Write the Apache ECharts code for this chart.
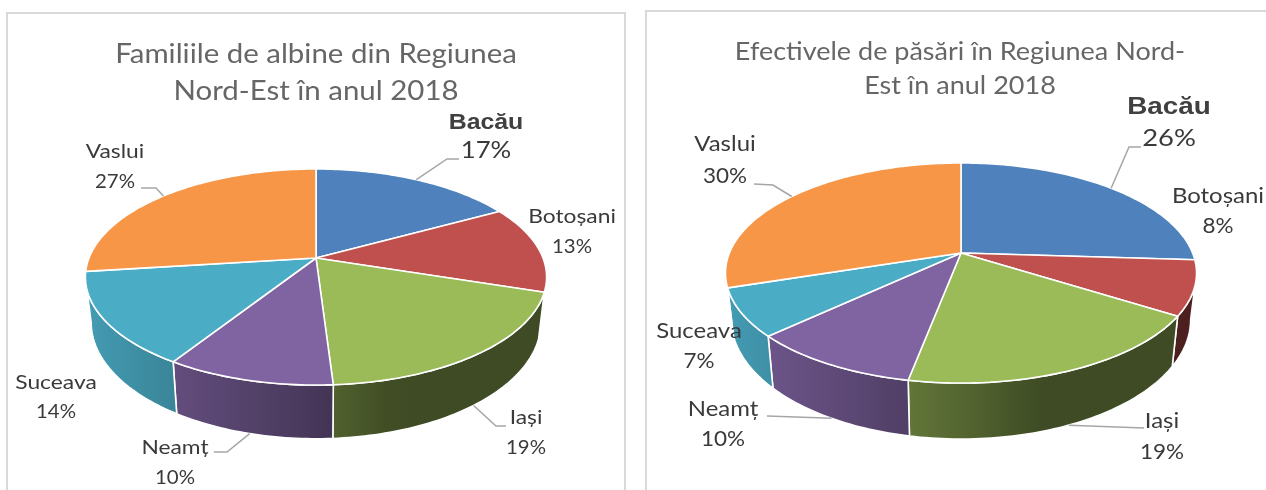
<!DOCTYPE html>
<html>
<head>
<meta charset="utf-8">
<style>html,body{margin:0;padding:0;background:#fff}#c{width:1266px;height:490px}</style>
<script src="https://cdn.jsdelivr.net/npm/echarts@6/dist/echarts.min.js"></script>
</head>
<body>
<div id="c"></div>
<script>
const counties = ['Bacău', 'Botoșani', 'Iași', 'Neamț', 'Suceava', 'Vaslui'];
const beeShares = [17, 13, 19, 10, 14, 27];
const birdShares = [26, 8, 19, 10, 7, 30];
const sliceColors = ['#4f81bd', '#c0504d', '#9bbb59', '#8064a2', '#4bacc6', '#f79646'];
const beeTitle = 'Familiile de albine din Regiunea\nNord-Est în anul 2018';
const birdTitle = 'Efectivele de păsări în Regiunea Nord-\nEst în anul 2018';

// Layout of the two tilted pies and their labels (not data).
const beePie = {
  cx: 316, cy: 258, A: 227, B: 104.7, p: 0.176, s: 0.975, D: 44, dB: 8,
  labels: [[486, 123, 151], [572, 217, 247], [526, 418, 448], [175, 448, 478], [56, 383, 412], [115, 152, 182]],
  elbows: [[[447, 159], [459, 159]], null, [[496, 426], [506, 426]], [[227, 452], [214, 452]], null, [[156, 188], [141, 188]]],
  boldSize: 22, boldScale: 1.13, pctBoldSize: 23, pctBoldScale: 1.12, nameSize: 20, nameScale: 1.14, pctSize: 20, pctScale: 1.02
};
const birdPie = {
  cx: 961, cy: 253, A: 231.6, B: 106.4, p: 0.182, s: 0.975, D: 45, dB: 9,
  labels: [[1169, 107, 138], [1218, 196, 226], [1162, 421, 452], [723, 409, 439], [699, 331, 361], [725, 144, 176]],
  elbows: [[[1129, 147], [1141, 147]], null, [[1144, 428]], [[767, 416]], null, [[773, 185], [754, 184]]],
  boldSize: 24, boldScale: 1.16, pctBoldSize: 24, pctBoldScale: 1.14, nameSize: 21, nameScale: 1.14, pctSize: 21, pctScale: 1.07
};

function shade(hex, f) {
  const n = parseInt(hex.slice(1), 16);
  const c = [(n >> 16) & 255, (n >> 8) & 255, n & 255].map(v => Math.round(v * f));
  return 'rgb(' + c.join(',') + ')';
}
function wallLight(nx) {
  if (nx < 0) return 0.55 + (0.9 - 0.55) * (-nx);
  if (nx < 0.35) return 0.55 - 0.15 * nx / 0.35;
  return 0.4;
}
function project(L, th, ring) {
  const u = Math.sin(th), v = Math.cos(th), den = 1 + L.p * v;
  if (ring === 0) return [L.cx + L.A * u / den, L.cy - L.B * v / den];
  return [L.cx + L.s * L.A * u / den, L.cy + L.D - (L.B + L.dB) * v / den];
}
function arc(L, a, b, ring) {
  const pts = [], n = Math.max(2, Math.ceil(Math.abs(b - a) / 0.02));
  for (let i = 0; i <= n; i++) pts.push(project(L, a + (b - a) * i / n, ring));
  return pts;
}
function textEl(text, x, y, font, fill, scale) {
  return {
    type: 'text', z2: 4, x: x, y: y, scaleX: scale, silent: true,
    style: { text: text, x: 0, y: 0, align: 'center', verticalAlign: 'middle', font: font, fill: fill }
  };
}
function pieRenderer(values, L) {
  const total = values.reduce((x, y) => x + y, 0);
  const sil = Math.acos(-L.p);                 // right silhouette angle
  return function (params, api) {
    const i = params.dataIndex, val = api.value(0);
    let before = 0;
    for (let k = 0; k < i; k++) before += values[k];
    const a = before / total * 2 * Math.PI, b = (before + val) / total * 2 * Math.PI;
    const mid = (a + b) / 2, color = sliceColors[i];
    const children = [];

    // side wall: only the part facing the viewer
    const wa = Math.max(a, sil), wb = Math.min(b, 2 * Math.PI - sil);
    if (wb > wa) {
      const pts = arc(L, wa, wb, 0).concat(arc(L, wb, wa, 1));
      const xs = pts.map(q => q[0]), x0 = Math.min(...xs), x1 = Math.max(...xs);
      const stops = [];
      for (let t = 0; t <= 8; t++) {
        const x = x0 + (x1 - x0) * t / 8;
        stops.push({ offset: t / 8, color: shade(color, wallLight((x - L.cx) / L.A)) });
      }
      children.push({
        type: 'polygon', z2: 1, shape: { points: pts },
        style: {
          fill: new echarts.graphic.LinearGradient(0, 0, 1, 0, stops),
          stroke: '#fff', lineWidth: 1.6
        }
      });
    }
    // top face
    children.push({
      type: 'polygon', z2: 2,
      shape: { points: [[L.cx, L.cy]].concat(arc(L, a, b, 0)) },
      style: { fill: color, stroke: '#fff', lineWidth: 1.6, lineJoin: 'round' }
    });
    // leader line starts on the slice's outer rim at its middle angle
    const elbow = L.elbows[i];
    if (elbow) {
      const onFront = Math.cos(mid) < -L.p;
      children.push({
        type: 'polyline', z2: 3,
        shape: { points: [project(L, mid, onFront ? 1 : 0)].concat(elbow) },
        style: { fill: 'none', stroke: '#a6a6a6', lineWidth: 1.5 }
      });
    }
    // labels
    const lab = L.labels[i];
    if (i === 0) {
      children.push(textEl(counties[i], lab[0], lab[1], 'bold ' + L.boldSize + 'px "Liberation Sans"', '#404040', L.boldScale));
      children.push(textEl(val + '%', lab[0], lab[2], L.pctBoldSize + 'px Lato', '#3a3a3a', L.pctBoldScale));
    } else {
      children.push(textEl(counties[i], lab[0], lab[1], L.nameSize + 'px Lato', '#3a3a3a', L.nameScale));
      children.push(textEl(val + '%', lab[0], lab[2], L.pctSize + 'px Lato', '#3a3a3a', L.pctScale));
    }
    return { type: 'group', children };
  };
}
function titleEl(text, x, y, size, lineHeight, scale) {
  return {
    type: 'text', silent: true, x: x, y: y, scaleX: scale,
    style: {
      text: text, x: 0, y: 0, align: 'center', verticalAlign: 'top',
      font: size + 'px Lato', fill: '#666666', lineHeight: lineHeight
    }
  };
}

const chart = echarts.init(document.getElementById('c'), null, { renderer: 'canvas' });
chart.setOption({
  animation: false,
  backgroundColor: '#fff',
  graphic: [
    { type: 'polyline', silent: true, shape: { points: [[7, 490], [7, 13], [625, 13], [625, 490]] },
      style: { fill: 'none', stroke: '#d9d9d9', lineWidth: 2 } },
    { type: 'polyline', silent: true, shape: { points: [[646, 490], [646, 11], [1266, 11]] },
      style: { fill: 'none', stroke: '#d9d9d9', lineWidth: 2 } },
    titleEl(beeTitle, 316, 36, 27, 37, 1.09),
    titleEl(birdTitle, 960, 35, 25, 34, 1.08)
  ],
  series: [
    { type: 'custom', name: 'Familii de albine', coordinateSystem: 'none', silent: true,
      data: beeShares, renderItem: pieRenderer(beeShares, beePie) },
    { type: 'custom', name: 'Efective de păsări', coordinateSystem: 'none', silent: true,
      data: birdShares, renderItem: pieRenderer(birdShares, birdPie) }
  ]
});
</script>
</body>
</html>
